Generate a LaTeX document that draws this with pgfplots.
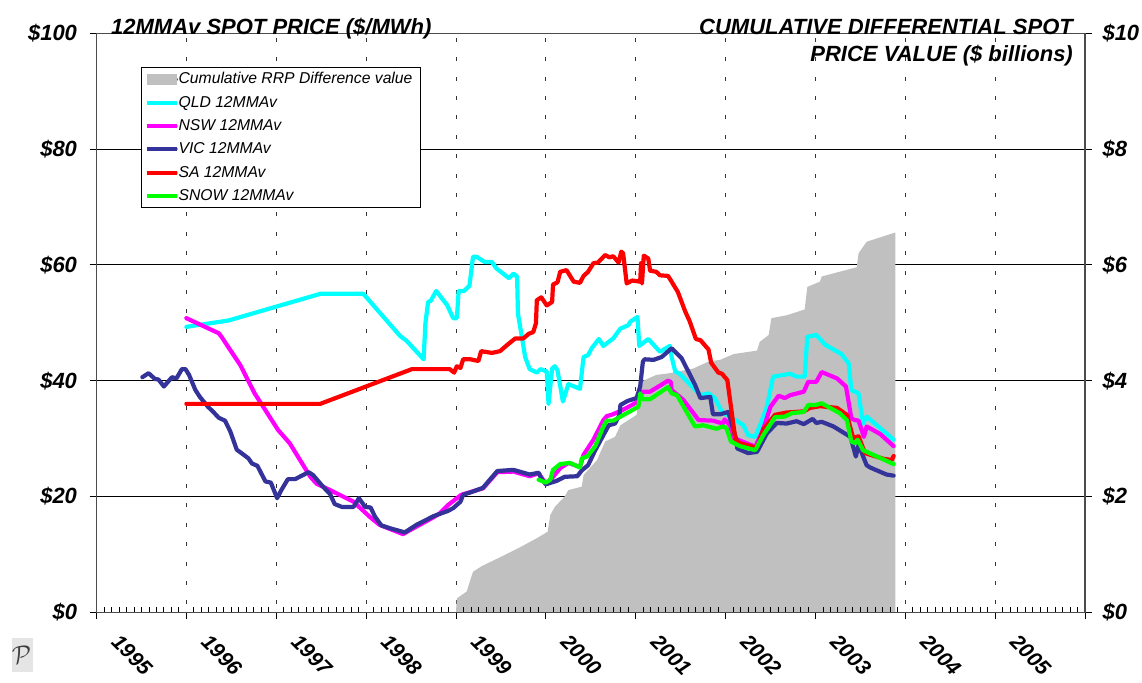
\documentclass[border=0pt]{standalone}
\usepackage{fontspec}
\setmainfont{Liberation Sans}
\usepackage{pgfplots}
\usepackage{pgfplotstable}
\pgfplotsset{compat=1.18}
\definecolor{vicblue}{HTML}{333399}
\definecolor{areagrey}{HTML}{C0C0C0}
\definecolor{qldcyan}{HTML}{00FFFF}
\definecolor{nswmag}{HTML}{FF00FF}
\definecolor{sared}{HTML}{FF0000}
\definecolor{snowgreen}{HTML}{00FF00}
\pgfplotstableread{
x y
1999.00 0
1999.01 0.24
1999.12 0.36
1999.16 0.56
1999.19 0.70
1999.29 0.80
1999.49 0.95
1999.62 1.05
1999.71 1.12
1999.90 1.28
2000.02 1.39
2000.05 1.68
2000.10 1.82
2000.21 2.00
2000.25 2.11
2000.40 2.17
2000.42 2.37
2000.57 2.63
2000.66 2.95
2000.77 3.03
2000.83 3.23
2001.01 3.41
2001.05 3.78
2001.07 3.99
2001.23 4.10
2001.38 4.13
2001.64 4.21
2001.81 4.33
2001.94 4.36
2002.09 4.46
2002.35 4.52
2002.38 4.67
2002.48 4.79
2002.51 5.08
2002.68 5.13
2002.88 5.23
2002.91 5.62
2003.05 5.71
2003.07 5.80
2003.46 5.96
2003.48 6.20
2003.57 6.40
2003.87 6.55
2003.89 6.56
2003.89 0
}\areatable
\pgfplotstableread{
x y
1996.00 49.3
1996.47 50.4
1997.49 55.0
1997.97 55.0
1998.38 47.7
1998.45 46.9
1998.64 43.7
1998.66 49.9
1998.69 53.6
1998.72 53.8
1998.78 55.5
1998.90 53.1
1998.97 50.8
1999.01 50.8
1999.03 55.5
1999.09 55.5
1999.15 56.4
1999.19 61.4
1999.23 61.4
1999.32 60.5
1999.40 60.5
1999.45 59.4
1999.59 57.7
1999.64 58.5
1999.68 58.0
1999.69 51.6
1999.77 44.1
1999.82 42.0
1999.90 41.4
1999.94 42.0
2000.01 41.6
2000.03 36.0
2000.07 42.1
2000.10 42.5
2000.13 41.8
2000.19 36.4
2000.25 39.4
2000.38 38.6
2000.42 44.1
2000.47 44.4
2000.51 45.6
2000.59 47.2
2000.64 46.0
2000.75 47.3
2000.83 49.0
2000.92 49.6
2000.94 50.2
2001.02 51.0
2001.04 46.0
2001.14 47.2
2001.27 45.0
2001.38 46.0
2001.40 44.1
2001.44 41.6
2001.49 41.2
2001.72 37.5
2001.81 37.8
2001.88 37.0
2001.96 34.6
2002.10 33.3
2002.20 32.3
2002.25 30.6
2002.33 30.3
2002.38 32.1
2002.46 35.5
2002.53 40.7
2002.72 41.2
2002.79 40.7
2002.88 40.7
2002.91 47.6
2003.01 47.9
2003.11 46.2
2003.29 44.6
2003.37 43.0
2003.40 38.4
2003.48 37.8
2003.53 32.6
2003.57 33.8
2003.79 30.9
2003.87 29.8
}\qldtable
\pgfplotstableread{
x y
1996.00 50.8
1996.36 48.2
1996.39 47.6
1996.60 42.7
1996.76 37.8
1997.02 31.5
1997.15 29.2
1997.38 23.4
1997.45 22.2
1997.60 21.1
1997.86 19.1
1998.04 16.5
1998.15 15.1
1998.41 13.5
1998.56 14.8
1998.75 16.4
1998.82 17.1
1998.91 18.5
1999.06 20.3
1999.30 21.4
1999.46 24.2
1999.64 24.3
1999.82 23.5
1999.92 24.0
2000.00 22.2
2000.07 23.2
2000.16 24.9
2000.25 25.8
2000.38 25.1
2000.42 27.2
2000.53 29.8
2000.64 33.2
2000.68 33.9
2000.73 34.1
2000.85 34.9
2001.03 36.4
2001.07 38.1
2001.16 38.1
2001.36 40.0
2001.39 39.8
2001.40 38.4
2001.53 36.7
2001.70 33.2
2001.86 33.1
2001.97 32.6
2001.99 33.3
2002.05 32.3
2002.09 30.1
2002.33 28.6
2002.40 30.9
2002.44 32.6
2002.50 35.5
2002.59 37.4
2002.66 37.0
2002.72 37.5
2002.87 38.1
2002.92 39.8
2003.01 39.8
2003.07 41.5
2003.24 40.4
2003.34 39.0
2003.40 33.5
2003.44 33.2
2003.48 33.1
2003.54 30.3
2003.57 32.1
2003.72 30.8
2003.87 28.7
}\nswtable
\pgfplotstableread{
x y
1995.51 40.6
1995.58 41.3
1995.65 40.3
1995.69 40.2
1995.75 39.0
1995.84 40.6
1995.89 40.4
1995.95 42.0
1995.99 42.0
1996.03 41.0
1996.10 38.4
1996.15 37.2
1996.24 35.5
1996.30 34.6
1996.36 33.6
1996.43 33.1
1996.49 31.2
1996.56 28.1
1996.69 26.6
1996.73 25.7
1996.79 25.3
1996.88 22.6
1996.94 22.4
1997.01 19.7
1997.06 21.2
1997.13 23.0
1997.21 23.0
1997.36 24.2
1997.41 23.7
1997.52 21.7
1997.60 20.4
1997.65 18.7
1997.73 18.2
1997.86 18.2
1997.92 19.7
1997.99 18.2
1998.05 18.1
1998.10 16.5
1998.17 15.0
1998.27 14.5
1998.43 13.8
1998.56 15.1
1998.75 16.6
1998.91 17.5
1998.97 18.0
1999.05 19.1
1999.08 20.3
1999.16 20.7
1999.30 21.5
1999.46 24.4
1999.64 24.6
1999.82 23.8
1999.92 24.1
1999.95 23.1
2000.00 22.1
2000.12 22.7
2000.21 23.4
2000.35 23.5
2000.40 24.5
2000.47 25.4
2000.55 28.0
2000.70 32.3
2000.77 32.6
2000.82 34.1
2000.83 35.8
2000.91 36.5
2001.01 37.0
2001.05 39.0
2001.08 43.3
2001.10 43.7
2001.20 43.6
2001.29 44.1
2001.40 45.6
2001.51 43.9
2001.66 39.3
2001.72 37.0
2001.83 37.2
2001.86 34.2
2001.94 34.2
2002.03 34.6
2002.12 29.8
2002.13 28.3
2002.25 27.5
2002.35 27.7
2002.46 30.9
2002.57 32.7
2002.68 32.6
2002.79 33.0
2002.87 32.5
2002.97 33.4
2003.01 32.7
2003.07 32.9
2003.20 32.1
2003.39 30.3
2003.42 28.6
2003.45 26.9
2003.48 28.9
2003.57 25.4
2003.61 25.0
2003.79 23.8
2003.87 23.6
}\victable
\pgfplotstableread{
x y
1996.00 36.0
1997.49 36.0
1998.51 42.0
1998.93 42.0
1998.98 41.4
1999.01 42.5
1999.05 42.2
1999.08 43.7
1999.16 43.7
1999.25 43.4
1999.28 45.1
1999.40 44.8
1999.49 45.1
1999.58 46.3
1999.66 47.3
1999.75 47.3
1999.81 48.1
1999.86 48.4
1999.89 49.9
1999.90 53.9
1999.95 54.4
2000.01 53.0
2000.07 53.6
2000.08 56.6
2000.13 57.0
2000.16 58.8
2000.23 59.1
2000.31 57.1
2000.38 56.9
2000.42 58.1
2000.47 58.8
2000.53 60.3
2000.58 60.4
2000.66 61.7
2000.71 61.3
2000.75 61.5
2000.81 60.4
2000.84 62.3
2000.86 62.0
2000.90 56.8
2000.96 57.3
2001.05 57.1
2001.06 60.3
2001.07 56.8
2001.09 61.6
2001.14 61.1
2001.16 59.0
2001.23 58.8
2001.27 58.2
2001.36 58.1
2001.40 57.1
2001.47 55.3
2001.55 52.0
2001.60 50.3
2001.67 47.2
2001.72 47.0
2001.81 45.4
2001.84 43.1
2001.92 41.4
2001.96 41.2
2002.02 40.1
2002.11 29.8
2002.16 29.2
2002.35 28.4
2002.42 31.6
2002.55 34.1
2002.68 34.5
2002.87 34.7
2002.94 35.3
2003.05 35.6
2003.24 35.3
2003.35 34.1
2003.42 30.1
2003.48 30.4
2003.55 27.5
2003.76 26.5
2003.85 26.3
2003.87 27.0
}\satable
\pgfplotstableread{
x y
1999.92 22.9
2000.00 22.4
2000.05 22.9
2000.08 24.6
2000.16 25.6
2000.27 25.8
2000.38 25.0
2000.40 26.6
2000.46 26.9
2000.55 28.7
2000.64 32.1
2000.68 33.1
2000.75 33.1
2001.03 35.5
2001.05 37.8
2001.08 36.8
2001.16 36.8
2001.36 38.9
2001.40 37.8
2001.46 37.5
2001.66 32.1
2001.75 32.3
2001.90 31.7
2001.97 32.1
2002.01 31.8
2002.06 29.5
2002.16 28.7
2002.33 28.0
2002.42 30.6
2002.55 33.7
2002.66 33.8
2002.74 34.4
2002.87 34.6
2002.92 35.8
2003.00 35.8
2003.07 36.1
2003.27 34.4
2003.35 33.2
2003.40 29.5
2003.44 29.2
2003.47 29.8
2003.53 28.0
2003.87 25.6
}\snowtable
\begin{document}
\begin{tikzpicture}
\path[use as bounding box] (0pt,0pt) rectangle (1142pt,682pt);
% logo
\node[fill=black!10,minimum width=21pt,minimum height=34pt,inner sep=0pt] at (22.5pt,27pt) {};
\node[inner sep=0pt,black!75,rotate=8] at (22pt,27pt) {\fontsize{36}{36}\selectfont$\mathcal{P}$};
% common settings
\pgfplotsset{
  base/.style={
    at={(96.5pt,69.7pt)},anchor=south west,
    scale only axis,width=988.5pt,height=579pt,
    xmin=1995,xmax=2006,
    xtick={1995,1996,1997,1998,1999,2000,2001,2002,2003,2004,2005,2006},
    axis line style={black!70,line width=1.1pt},
    tick style={black,line width=0.8pt},
    yticklabel style={font=\fontsize{22}{22}\selectfont\bfseries\itshape},
    xticklabel style={font=\fontsize{21}{21}\selectfont\bfseries\itshape},
  }
}
% first axis: right-hand scale, grid and area
\begin{axis}[base,
  ymin=0,ymax=10,ytick={0,2,4,6,8,10},
  yticklabels={\$0,\$2,\$4,\$6,\$8,\$10},
  ytick pos=right,yticklabel pos=right,
  yticklabel style={xshift=7pt},
  xtick pos=bottom,
  xtick align=outside,ytick align=outside,
  major tick length=7pt,
  xticklabels={1995,1996,1997,1998,1999,2000,2001,2002,2003,2004,2005,},
  xticklabel style={rotate=-45,anchor=north west,xshift=23.5pt,yshift=10.7pt},
  grid=major,
  x grid style={black!80,line width=0.9pt,dash pattern=on 4pt off 15.4pt,dash phase=11.5pt},
  y grid style={black,line width=0.9pt},
]
\addplot[fill=areagrey,draw=none] table[x=x,y=y] {\areatable};
\end{axis}
% second axis: left-hand scale and the price lines
\begin{axis}[base,
  ymin=0,ymax=100,ytick={0,20,40,60,80,100},
  yticklabels={\$0,\$20,\$40,\$60,\$80,\$100},
  ytick pos=left,
  yticklabel style={xshift=-9pt},
  ytick align=outside,
  major y tick style={black,line width=0.8pt},
  major tick length=7pt,
  minor tick length=5.5pt,
  xtick pos=bottom,xtick align=inside,
  xticklabels={},
  major x tick style={draw=none},
  minor x tick num=11,
  legend cell align=left,
  legend style={
    at={(0.045,0.9418)},anchor=north west,
    draw=black,line width=0.9pt,fill=white,
    font=\fontsize{15.7}{15.7}\selectfont\itshape,
    row sep=8.3pt,inner xsep=7pt,inner ysep=4.5pt,
    nodes={inner ysep=0pt,inner xsep=1pt,text height=12pt,text depth=3pt},
  },
  legend image code/.code={\path (0pt,0pt) -- (25pt,0pt);\draw[#1,line width=4pt,line cap=butt,overlay] (-4pt,0pt) -- (26pt,0pt);},
  every axis plot/.append style={line width=4.2pt,line join=round,line cap=round},
]
\addlegendimage{legend image code/.code={\path (0pt,0pt) -- (25pt,0pt);\path[fill=areagrey,draw=none,overlay] (-4pt,-5.5pt) rectangle (26pt,5.5pt);}}
\addlegendentry{Cumulative RRP Difference value}
\addplot[qldcyan] table[x=x,y=y] {\qldtable};
\addlegendentry{QLD 12MMAv}
\addplot[nswmag] table[x=x,y=y] {\nswtable};
\addlegendentry{NSW 12MMAv}
\addplot[vicblue] table[x=x,y=y] {\victable};
\addlegendentry{VIC 12MMAv}
\addplot[sared] table[x=x,y=y] {\satable};
\addlegendentry{SA 12MMAv}
\addplot[snowgreen] table[x=x,y=y] {\snowtable};
\addlegendentry{SNOW 12MMAv}
\end{axis}
% titles
\node[anchor=base west,inner sep=0pt,font=\fontsize{22}{22}\selectfont\bfseries\itshape] at (111pt,647.5pt) {12MMAv SPOT PRICE (\$/MWh)};
\node[anchor=base east,inner sep=0pt,font=\fontsize{22}{22}\selectfont\bfseries\itshape] at (1073pt,647.5pt) {CUMULATIVE DIFFERENTIAL SPOT};
\node[anchor=base east,inner sep=0pt,font=\fontsize{22}{22}\selectfont\bfseries\itshape] at (1073pt,620.5pt) {PRICE VALUE (\$ billions)};
\end{tikzpicture}
\end{document}
